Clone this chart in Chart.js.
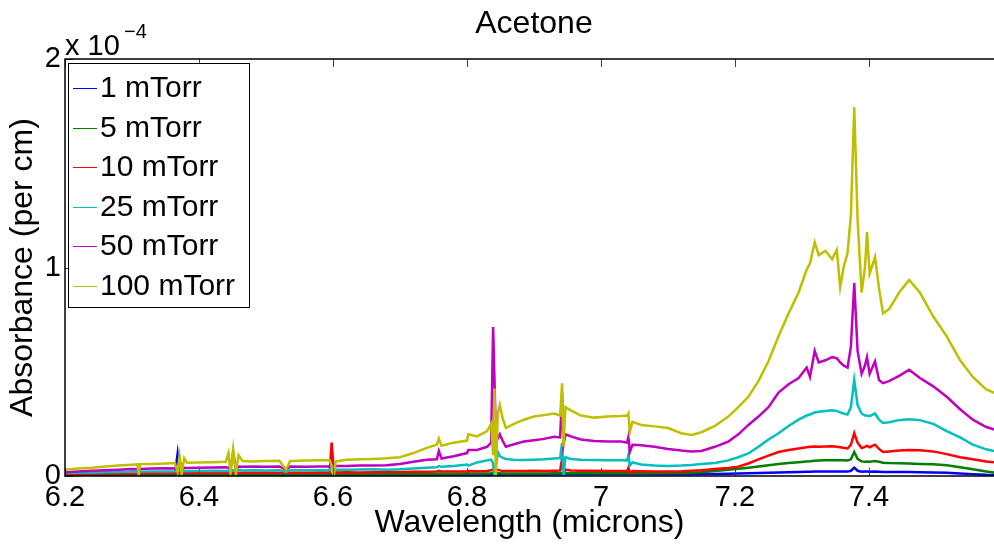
<!DOCTYPE html>
<html>
<head>
<meta charset="utf-8">
<title>Acetone</title>
<script src="https://cdn.jsdelivr.net/npm/chart.js@4.4.0/dist/chart.umd.min.js"></script>
<style>
  html, body { margin: 0; padding: 0; background: #fff; }
</style>
</head>
<body>
<canvas id="myChart" width="994" height="544"></canvas>
<script>
// wavelength grid (microns), denser around the sharp lines
const wavelength = [
  6.200, 6.220, 6.240, 6.260, 6.280, 6.300, 6.308, 6.310, 6.312, 6.330,
  6.350, 6.364, 6.368, 6.371, 6.374, 6.378, 6.382, 6.400, 6.420, 6.440,
  6.444, 6.447, 6.451, 6.455, 6.459, 6.465, 6.480, 6.500, 6.520, 6.530,
  6.536, 6.560, 6.580, 6.595, 6.598, 6.601, 6.604, 6.620, 6.640, 6.660,
  6.680, 6.700, 6.720, 6.740, 6.755, 6.758, 6.762, 6.780, 6.800, 6.802,
  6.815, 6.830, 6.836, 6.839, 6.841, 6.843, 6.846, 6.849, 6.853, 6.858,
  6.870, 6.885, 6.900, 6.915, 6.930, 6.939, 6.942, 6.944, 6.947, 6.955,
  6.970, 6.990, 7.010, 7.030, 7.039, 7.041, 7.043, 7.047, 7.060, 7.080,
  7.100, 7.120, 7.135, 7.150, 7.170, 7.190, 7.205, 7.220, 7.235, 7.250,
  7.265, 7.280, 7.295, 7.307, 7.312, 7.319, 7.325, 7.335, 7.345, 7.352,
  7.357, 7.362, 7.368, 7.373, 7.378, 7.383, 7.389, 7.394, 7.397, 7.401,
  7.409, 7.415, 7.421, 7.430, 7.445, 7.460, 7.476, 7.496, 7.516, 7.536,
  7.555, 7.575, 7.590
];

// absorbance in units of 1e-4 per cm
const abs1 = [
  .004, .005, .004, .005, .005, .004, .005, .005, .005, .005,
  .004, .005, .105, .006, .005, .005, .005, .004, .005, .005,
  .005, .005, .005, .005, .005, .005, .005, .004, .005, .005,
  .005, .005, .005, .005, .005, .005, .005, .005, .005, .005,
  .006, .006, .006, .006, .006, .007, .006, .006, .007, .007,
  .007, .007, .007, .008, .008, .007, .007, .007, .007, .007,
  .007, .007, .007, .007, .008, .008, .008, .008, .008, .008,
  .008, .008, .008, .008, .008, .008, .008, .008, .008, .008,
  .008, .008, .008, .009, .010, .011, .012, .013, .014, .016,
  .017, .018, .019, .020, .020, .021, .021, .022, .022, .022,
  .022, .021, .021, .025, .040, .025, .020, .021, .021, .020,
  .021, .020, .019, .019, .019, .019, .018, .017, .015, .012,
  .009, .006, .005
];
const abs5 = [
  .006, .007, .006, .008, .007, .008, .007, .007, .008, .008,
  .007, .008, .008, .008, .008, .007, .008, .008, .007, .008,
  .008, .008, .008, .008, .008, .008, .008, .008, .008, .008,
  .008, .009, .009, .009, .009, .009, .009, .009, .009, .010,
  .010, .010, .010, .011, .011, .012, .011, .011, .012, .012,
  .012, .012, .013, .014, .014, .013, .013, .013, .012, .012,
  .012, .012, .012, .012, .013, .013, .014, .013, .013, .013,
  .013, .013, .013, .013, .013, .015, .012, .013, .013, .013,
  .014, .014, .015, .018, .024, .030, .035, .040, .046, .052,
  .058, .062, .066, .070, .071, .073, .074, .075, .076, .076,
  .076, .075, .074, .080, .115, .082, .070, .068, .070, .068,
  .072, .068, .064, .062, .061, .060, .058, .056, .052, .042,
  .032, .022, .015
];
const abs10 = [
  .010, .011, .012, .012, .013, .012, .013, .010, .013, .014,
  .013, .014, .014, .016, .050, .014, .015, .014, .015, .014,
  .015, .014, .016, .013, .015, .015, .016, .015, .016, .015,
  .016, .016, .017, .017, .160, .030, .017, .018, .017, .018,
  .019, .019, .020, .020, .022, .025, .021, .022, .022, .024,
  .023, .024, .028, .030, .020, .025, .030, .027, .024, .024,
  .024, .024, .025, .024, .025, .026, .085, .010, .030, .026,
  .025, .025, .024, .024, .024, .040, .015, .024, .023, .022,
  .022, .023, .025, .028, .033, .038, .045, .060, .080, .098,
  .115, .125, .132, .138, .140, .142, .140, .142, .143, .140,
  .138, .135, .132, .150, .206, .160, .134, .140, .145, .138,
  .150, .130, .115, .118, .122, .125, .124, .118, .105, .090,
  .080, .070, .065
];
const abs25 = [
  .014, .016, .017, .018, .019, .020, .020, .012, .021, .022,
  .022, .023, .024, .026, .022, .024, .023, .024, .025, .024,
  .025, .020, .028, .022, .030, .026, .027, .026, .028, .020,
  .028, .027, .028, .028, .045, .020, .030, .030, .031, .032,
  .030, .032, .036, .040, .042, .048, .044, .048, .055, .050,
  .065, .075, .078, .060, .000, .040, .115, .095, .088, .082,
  .078, .077, .078, .080, .084, .086, .160, .000, .090, .082,
  .078, .077, .076, .075, .074, .100, .050, .065, .055, .050,
  .048, .050, .053, .058, .062, .075, .090, .108, .140, .175,
  .205, .240, .270, .290, .295, .305, .308, .312, .315, .312,
  .305, .300, .295, .330, .460, .340, .300, .290, .290, .287,
  .300, .270, .254, .258, .268, .272, .268, .250, .215, .185,
  .150, .128, .118
];
const abs50 = [
  .018, .022, .025, .028, .030, .033, .032, .020, .034, .036,
  .037, .036, .034, .038, .036, .040, .038, .040, .041, .042,
  .040, .030, .115, .036, .045, .044, .045, .044, .046, .030,
  .045, .044, .046, .046, .060, .030, .048, .048, .050, .050,
  .052, .058, .068, .078, .080, .120, .084, .095, .110, .125,
  .125, .140, .160, .715, .470, .200, .180, .200, .170, .140,
  .152, .165, .172, .178, .188, .185, .400, .150, .200, .190,
  .175, .168, .166, .165, .160, .190, .115, .150, .148, .140,
  .130, .122, .118, .120, .140, .165, .200, .245, .285, .330,
  .400, .440, .470, .520, .475, .600, .545, .555, .570, .565,
  .545, .530, .520, .620, .925, .600, .490, .530, .570, .490,
  .550, .460, .445, .455, .480, .510, .470, .430, .380, .320,
  .270, .235, .220
];
const abs100 = [
  .030, .036, .040, .046, .050, .054, .056, .004, .057, .058,
  .060, .062, .020, .095, .010, .085, .064, .065, .066, .068,
  .110, .015, .130, .010, .100, .072, .070, .072, .073, .030,
  .072, .074, .075, .076, .050, .002, .070, .078, .080, .082,
  .085, .090, .110, .135, .150, .180, .145, .160, .170, .200,
  .190, .215, .250, .100, .420, .000, .300, .340, .280, .230,
  .250, .270, .285, .292, .300, .290, .445, .140, .330, .315,
  .290, .280, .285, .288, .290, .300, .210, .260, .245, .238,
  .230, .205, .197, .210, .240, .285, .330, .380, .455, .550,
  .670, .780, .880, .990, 1.020, 1.120, 1.060, 1.080, 1.040, 1.085,
  .905, 1.000, 1.070, 1.250, 1.770, 1.230, .880, 1.000, 1.170, .970,
  1.050, .900, .780, .800, .880, .940, .880, .765, .670, .555,
  .475, .415, .395
];

const seriesLabels = ['1 mTorr', '5 mTorr', '10 mTorr', '25 mTorr', '50 mTorr', '100 mTorr'];
const seriesValues = [abs1, abs5, abs10, abs25, abs50, abs100];
const seriesColors = ['#0000ff', '#008000', '#ff0000', '#00bfbf', '#bf00bf', '#bfbf00'];

const xTicks = [6.2, 6.4, 6.6, 6.8, 7.0, 7.2, 7.4];
const xTickLabels = ['6.2', '6.4', '6.6', '6.8', '7', '7.2', '7.4'];
const yTicks = [0, 1, 2];
const yTickLabels = ['0', '1', '2'];

const FONT = "'Liberation Sans', Arial, sans-serif";

// box, inward ticks, legend, title and the axis multiplier, drawn on top
const matlabFrame = {
  id: 'matlabFrame',
  afterDatasetsDraw(chart) {
    const { ctx, chartArea: a, scales: { x, y } } = chart;
    const tickLen = 8;
    ctx.save();

    ctx.strokeStyle = '#444';
    ctx.lineWidth = 1;
    ctx.beginPath();
    x.ticks.forEach(t => {
      const px = Math.round(x.getPixelForValue(t.value)) + 0.5;
      ctx.moveTo(px, a.top); ctx.lineTo(px, a.top + tickLen);
      ctx.moveTo(px, a.bottom); ctx.lineTo(px, a.bottom - tickLen);
    });
    y.ticks.forEach(t => {
      const py = Math.round(y.getPixelForValue(t.value)) + 0.5;
      ctx.moveTo(a.left, py); ctx.lineTo(a.left + tickLen, py);
    });
    ctx.stroke();

    ctx.strokeStyle = '#000';
    ctx.lineWidth = 1.5;
    ctx.beginPath();
    ctx.moveTo(a.right, a.top);
    ctx.lineTo(a.left, a.top);
    ctx.lineTo(a.left, a.bottom);
    ctx.lineTo(a.right, a.bottom);
    ctx.stroke();

    // legend, upper left inside the axes
    const lx = a.left + 3, ly = a.top + 4, lw = 181, lh = 244;
    ctx.fillStyle = '#fff';
    ctx.fillRect(lx, ly, lw, lh);
    ctx.strokeStyle = '#000';
    ctx.lineWidth = 1;
    ctx.strokeRect(lx + 0.5, ly + 0.5, lw, lh);
    ctx.font = '30px ' + FONT;
    ctx.textAlign = 'left';
    ctx.textBaseline = 'middle';
    chart.data.datasets.forEach((ds, i) => {
      const ry = ly + 25 + i * 39.5;
      ctx.strokeStyle = ds.borderColor;
      ctx.lineWidth = 1;
      ctx.beginPath();
      ctx.moveTo(lx + 5, Math.round(ry) + 0.5);
      ctx.lineTo(lx + 29, Math.round(ry) + 0.5);
      ctx.stroke();
      ctx.fillStyle = '#000';
      ctx.fillText(ds.label, lx + 32, ry + 1);
    });

    // title centred over the full axis width (axis runs on to 7.6)
    const cx = (x.getPixelForValue(6.2) + x.getPixelForValue(7.6)) / 2;
    ctx.fillStyle = '#000';
    ctx.textAlign = 'center';
    ctx.textBaseline = 'middle';
    ctx.font = '32px ' + FONT;
    ctx.fillText('Acetone', cx, 24);

    // y multiplier
    ctx.textAlign = 'left';
    ctx.textBaseline = 'alphabetic';
    ctx.font = '29px ' + FONT;
    ctx.fillText('x 10', a.left, 55);
    ctx.font = '20px ' + FONT;
    ctx.fillText('\u22124', a.left + 59, 38);

    ctx.restore();
  }
};

const ctx = document.getElementById('myChart').getContext('2d');
const myChart = new Chart(ctx, {
  type: 'line',
  data: {
    datasets: seriesValues.map((vals, i) => ({
      label: seriesLabels[i],
      data: wavelength.map((w, k) => ({ x: w, y: vals[k] })),
      borderColor: seriesColors[i],
      backgroundColor: seriesColors[i],
      borderWidth: 2.5,
      pointRadius: 0,
      tension: 0,
      fill: false,
      order: seriesValues.length - i
    }))
  },
  options: {
    responsive: false,
    animation: false,
    layout: { padding: { top: 59, right: 0, bottom: 0, left: 0 } },
    plugins: {
      legend: { display: false },
      tooltip: { enabled: false },
      title: { display: false }
    },
    scales: {
      x: {
        type: 'linear',
        min: 6.2,
        max: 7.5866,
        afterBuildTicks: s => { s.ticks = xTicks.map(v => ({ value: v })); },
        afterFit: s => { s.height = 68; },
        grid: { display: false, drawTicks: false },
        border: { display: false },
        ticks: {
          color: '#000',
          font: { family: FONT, size: 29 },
          padding: 5,
          maxRotation: 0,
          autoSkip: false,
          callback: (v, i) => xTickLabels[i]
        },
        title: {
          display: true,
          text: 'Wavelength (microns)',
          color: '#000',
          font: { family: FONT, size: 32 },
          padding: { top: 0, bottom: 2 }
        }
      },
      y: {
        type: 'linear',
        min: 0,
        max: 2,
        afterBuildTicks: s => { s.ticks = yTicks.map(v => ({ value: v })); },
        afterFit: s => { s.width = 65; },
        grid: { display: false, drawTicks: false },
        border: { display: false },
        ticks: {
          color: '#000',
          font: { family: FONT, size: 29 },
          padding: 4,
          callback: (v, i) => yTickLabels[i]
        },
        title: {
          display: true,
          text: 'Absorbance (per cm)',
          color: '#000',
          font: { family: FONT, size: 32 },
          padding: { top: 4, bottom: 0 }
        }
      }
    }
  },
  plugins: [matlabFrame]
});
</script>
</body>
</html>
